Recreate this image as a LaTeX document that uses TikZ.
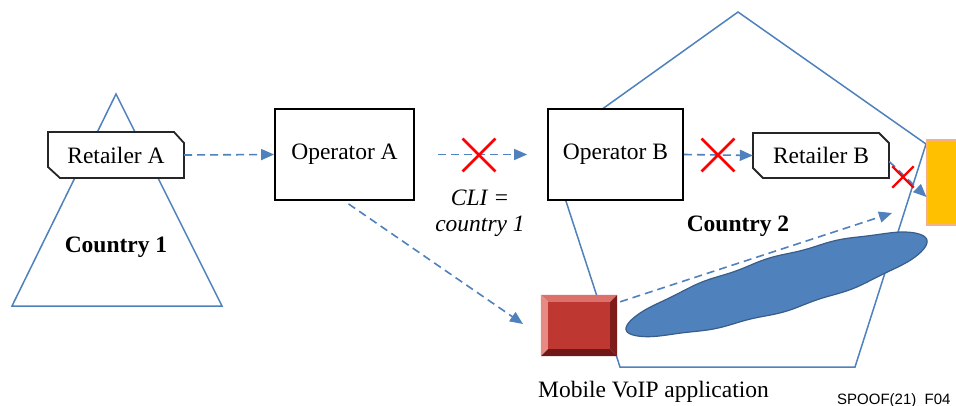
\documentclass[tikz,border=0pt]{standalone}
\usepackage{fontspec}
\setmainfont{Liberation Serif}
\newfontfamily\arialfont{Liberation Sans}
\usetikzlibrary{arrows.meta,shapes.misc}
\definecolor{cblue}{RGB}{79,129,189}
\definecolor{cblueline}{RGB}{56,93,138}
\definecolor{cgold}{RGB}{255,192,0}
\definecolor{corangeline}{RGB}{244,177,131}
\definecolor{redface}{RGB}{190,55,48}
\definecolor{redtop}{RGB}{220,112,106}
\definecolor{redleft}{RGB}{232,138,132}
\definecolor{redright}{RGB}{125,28,26}
\definecolor{redbottom}{RGB}{112,24,24}
\definecolor{crossred}{RGB}{255,0,0}
\begin{document}
\begin{tikzpicture}[x=1pt,y=-1pt,
  outline/.style={draw=cblue, line width=1.5pt, line join=miter},
  box/.style={draw=black, line width=1.8pt, fill=white, inner sep=0pt, font=\fontsize{23.5}{28}\selectfont},
  chamf/.style={draw=black!85, line width=1.8pt, fill=white},
  plain/.style={inner sep=0pt, font=\fontsize{23.5}{28}\selectfont},
  lbl/.style={inner sep=0pt, anchor=base},
  flow/.style={draw=cblue, line width=1.6pt, dash pattern=on 8pt off 5pt, -{Triangle[length=13pt,width=11pt]}},
  xmark/.style={cross out, draw=crossred, line width=2.8pt, inner sep=0pt, minimum size=30pt},
  ]
\useasboundingbox (0,0) rectangle (956,406);
\fill[white] (0,0) rectangle (956,406);

% country 1 triangle
\draw[outline] (116,94) -- (222,306) -- (12,306) -- cycle;
% country 2 pentagon
\draw[outline] (738,12) -- (926,144) -- (855,367) -- (620,367) -- (548.5,147.5) -- cycle;

% cloud
\begin{scope}[shift={(776.5,285)}, rotate=16.7]
\filldraw[fill=cblue, draw=cblueline, line width=1.2pt]
  plot[domain=0:357.5, samples=144, smooth cycle, variable=\t]
  ({157*cos(\t)},
   {(27*(1+0.06*cos(\t))+0.9*cos(5*157*cos(\t)))*sin(\t)});
\end{scope}

% retailer shapes
\draw[chamf] (48,132) -- (174,132) -- (184,143) -- (184,178) -- (60,178) -- (48,167) -- cycle;
\node[plain, minimum width=136pt, minimum height=46pt] (ra) at (116,155) {Retailer A};
\draw[chamf] (753,133) -- (879,133) -- (889,143) -- (889,178) -- (763,178) -- (753,168) -- cycle;
\node[plain, minimum width=136pt, minimum height=45pt] (rb) at (821,155.5) {Retailer B};

% operators
\node[box, minimum width=139pt, minimum height=91pt] (opa) at (344.5,154.5) {Operator A};
\node[box, minimum width=135pt, minimum height=91pt] (opb) at (615.5,154.5) {Operator B};

% phone (orange)
\node[draw=corangeline, fill=cgold, line width=1.2pt, minimum width=40pt, minimum height=85pt, inner sep=0pt] (phone) at (947,182.5) {};

% mobile VoIP app (bevel)
\node[inner sep=0pt, minimum width=76pt, minimum height=61pt] (voip) at (579,325.5) {};
\fill[redtop] (voip.north west) -- (voip.north east) -- ([shift={(-7,7)}]voip.north east) -- ([shift={(7,7)}]voip.north west) -- cycle;
\fill[redleft] (voip.north west) -- ([shift={(7,7)}]voip.north west) -- ([shift={(7,-7)}]voip.south west) -- (voip.south west) -- cycle;
\fill[redright] (voip.north east) -- (voip.south east) -- ([shift={(-7,-7)}]voip.south east) -- ([shift={(-7,7)}]voip.north east) -- cycle;
\fill[redbottom] (voip.south west) -- (voip.south east) -- ([shift={(-7,-7)}]voip.south east) -- ([shift={(7,-7)}]voip.south west) -- cycle;
\fill[redface] ([shift={(7,7)}]voip.north west) rectangle ([shift={(-7,-7)}]voip.south east);

% connectors
\coordinate (vend) at (523,324);
\coordinate (cend) at (892,213);
\draw[flow] (ra.east) -- (opa.west);
\draw[flow, shorten <=23pt, shorten >=20pt] (opa.east) -- (opb.west);
\draw[flow] (opb.east) -- (rb.west);
\draw[flow] ([shift={(0,6)}]rb.east) -- ([shift={(0,14.5)}]phone.west);
\draw[flow] ([shift={(4,3)}]opa.south) -- (vend);
\draw[flow] ([shift={(3,7)}]voip.north east) -- (cend);

% crosses
\node[xmark] (x1) at (479,155) {};
\node[xmark] (x2) at (718,155) {};
\node[xmark, minimum size=19pt, line width=2.4pt] (x3) at (903,177) {};

% labels
\node[lbl, font=\fontsize{23.5}{28}\selectfont\itshape] (cli1) at (480,206) {CLI =};
\node[lbl, font=\fontsize{23.5}{28}\selectfont\itshape] (cli2) at (480,232) {country 1};
\node[lbl, font=\fontsize{23.5}{28}\selectfont\bfseries] (c1) at (116,253) {Country 1};
\node[lbl, font=\fontsize{23.5}{28}\selectfont\bfseries] (c2) at (738,232) {Country 2};
\node[lbl, anchor=base west, font=\fontsize{23.5}{28}\selectfont] (mv) at (538,397) {Mobile VoIP application};
\node[lbl, anchor=base west, font=\arialfont\fontsize{15}{18}\selectfont] (sp) at (837,404) {SPOOF(21)\_F04};
\end{tikzpicture}
\end{document}
